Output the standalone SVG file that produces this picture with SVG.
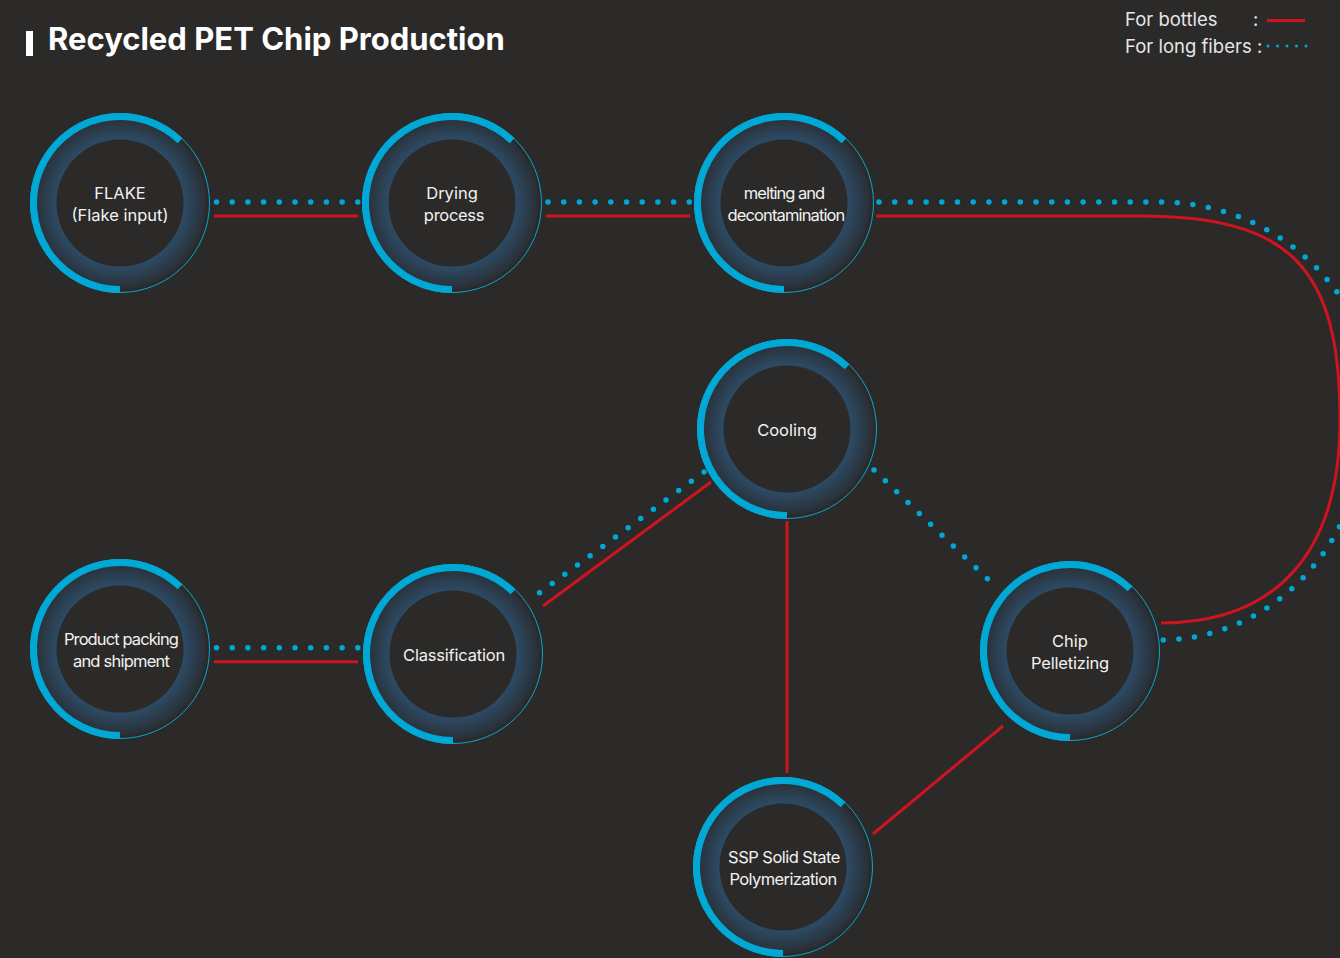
<svg xmlns="http://www.w3.org/2000/svg" xmlns:xlink="http://www.w3.org/1999/xlink" width="1340" height="958" viewBox="0 0 1340 958">
  <style>
    .lbl { font-family: Inter, "Liberation Sans", sans-serif; font-size: 16.5px; fill: #f2f2f2; text-anchor: middle; }
    .legend { font-family: Inter, "Liberation Sans", sans-serif; font-size: 18.5px; fill: #e6e6e6; }
    .title { font-family: Inter, "Liberation Sans", sans-serif; font-size: 31px; font-weight: 700; fill: #ffffff; }
    .red { fill: none; stroke: #cf1420; stroke-width: 3; }
    .dot { fill: none; stroke: #00a8d6; stroke-width: 5.5; stroke-linecap: round; stroke-dasharray: 0 15.7; }
    .ldot { fill: none; stroke: #00a8d6; stroke-width: 3; stroke-linecap: round; stroke-dasharray: 0 9.5; }
  </style>
  <defs>
    <radialGradient id="ringGrad" cx="50%" cy="50%" r="50%">
      <stop offset="0" stop-color="#2c4a64"/>
      <stop offset="0.75" stop-color="#2c4a64"/>
      <stop offset="1" stop-color="#2a2f35"/>
    </radialGradient>
    <g id="ring">
      <circle r="86" fill="url(#ringGrad)"/>
      <circle r="63.5" fill="#2b2a29"/>
      <circle r="89.5" fill="none" stroke="#00a8d6" stroke-width="1"/>
      <path d="M0 86.5 A86.5 86.5 0 1 1 60.09 -62.22" fill="none" stroke="#00a8d6" stroke-width="7"/>
    </g>
  </defs>

  <rect width="1340" height="958" fill="#2b2a29"/>

  <g id="title">
    <rect x="26" y="31" width="7" height="25" fill="#ffffff"/>
    <text class="title" x="48" y="50">Recycled PET Chip Production</text>
  </g>

  <g id="legend">
    <text class="legend" x="1125" y="26">For bottles</text>
    <text class="legend" x="1253" y="26">:</text>
    <path class="red" d="M1267 20.5 H1305"/>
    <text class="legend" x="1125" y="53">For long fibers :</text>
    <path class="ldot" d="M1268 46 H1306.5"/>
  </g>

  <g id="connectors">
    <path class="dot" d="M216.5 202 H358"/>
    <path class="red" d="M214 216 H358"/>
    <path class="dot" d="M548 202 H690"/>
    <path class="red" d="M546 216 H690"/>
    <path class="dot" d="M879 202 H1160 A219 219 0 0 1 1379 421 M1365 421 A205 219 0 0 1 1163 640"/>
    <path class="red" d="M876 216 H1140 C1290 216 1340 267 1340 420 C1340 552 1277 623 1161 623"/>
    <path class="red" d="M787 521 V773"/>
    <path class="red" d="M711 482 L543 606"/>
    <path class="dot" d="M704 472 L538 594"/>
    <path class="dot" d="M874 470 L994 585"/>
    <path class="red" d="M1003 726 L873 834"/>
    <path class="dot" d="M216.5 647.7 H358"/>
    <path class="red" d="M214 661.7 H358"/>
  </g>

  <g id="node-flake">
    <use xlink:href="#ring" transform="translate(120,203)"/>
    <text class="lbl" x="120" y="198.5">FLAKE</text>
    <text class="lbl" x="120" y="220.5">(Flake input)</text>
  </g>
  <g id="node-drying">
    <use xlink:href="#ring" transform="translate(452,203)"/>
    <text class="lbl" x="452" y="198.5">Drying</text>
    <text class="lbl" x="454" y="220.5" letter-spacing="-0.3">process</text>
  </g>
  <g id="node-melting">
    <use xlink:href="#ring" transform="translate(784,203)"/>
    <text class="lbl" x="784" y="198.5" letter-spacing="-1">melting and</text>
    <text class="lbl" x="786" y="220.5" letter-spacing="-0.87">decontamination</text>
  </g>
  <g id="node-cooling">
    <use xlink:href="#ring" transform="translate(787,429)"/>
    <text class="lbl" x="787" y="435.5">Cooling</text>
  </g>
  <g id="node-packing">
    <use xlink:href="#ring" transform="translate(120,649)"/>
    <text class="lbl" x="121" y="644.5" letter-spacing="-0.9">Product packing</text>
    <text class="lbl" x="121" y="666.5" letter-spacing="-0.78">and shipment</text>
  </g>
  <g id="node-classification">
    <use xlink:href="#ring" transform="translate(453,654)"/>
    <text class="lbl" x="454" y="660.5" letter-spacing="-0.2">Classification</text>
  </g>
  <g id="node-chip">
    <use xlink:href="#ring" transform="translate(1070,651)"/>
    <text class="lbl" x="1070" y="646.5">Chip</text>
    <text class="lbl" x="1070" y="668.5" letter-spacing="-0.2">Pelletizing</text>
  </g>
  <g id="node-ssp">
    <use xlink:href="#ring" transform="translate(783,867)"/>
    <text class="lbl" x="784" y="862.5" letter-spacing="-0.53">SSP Solid State</text>
    <text class="lbl" x="783" y="884.5" letter-spacing="-0.6">Polymerization</text>
  </g>
</svg>
